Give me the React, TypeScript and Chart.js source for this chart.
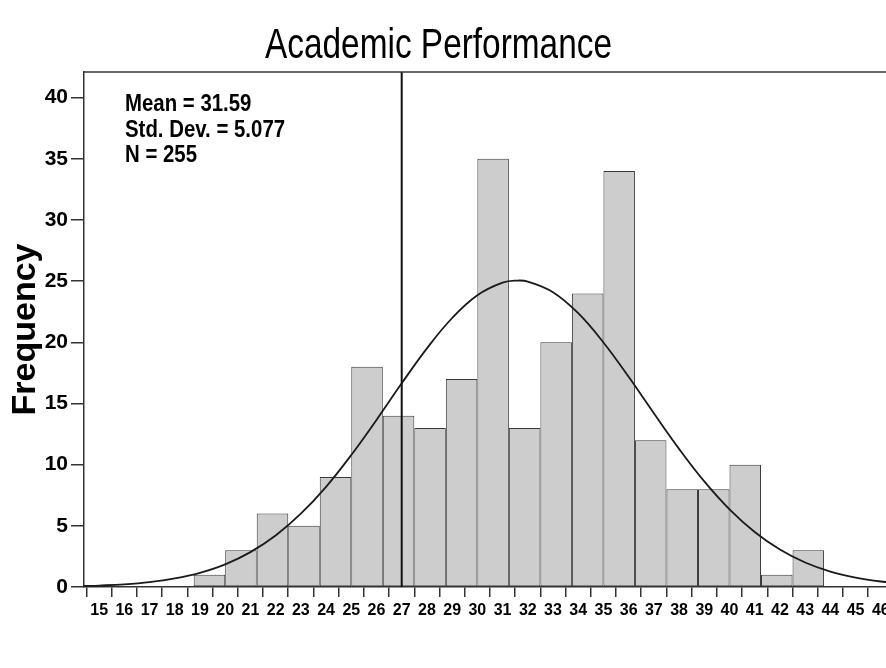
import React, { useEffect, useRef } from "react";
import { Chart, registerables } from "chart.js";

Chart.register(...registerables);

const chartTitle = "Academic Performance";
const yAxisTitle = "Frequency";
const statsLines = ["Mean = 31.59", "Std. Dev. = 5.077", "N = 255"];

const binWidth = 1.25;
const binStarts = [18.75, 20, 21.25, 22.5, 23.75, 25, 26.25, 27.5, 28.75, 30, 31.25, 32.5, 33.75, 35, 36.25, 37.5, 38.75, 40, 41.25, 42.5];
const binCounts = [1, 3, 6, 5, 9, 18, 14, 13, 17, 35, 13, 20, 24, 34, 12, 8, 8, 10, 1, 3];

const curveX = [14.4, 15, 16, 17, 18, 19, 20, 21, 22, 23, 24, 25, 26, 27, 28, 29, 30, 31, 31.59, 32, 33, 34, 35, 36, 37, 38, 39, 40, 41, 42, 43, 44, 45, 46, 47];
const curveY = [0.08, 0.12, 0.22, 0.4, 0.7, 1.16, 1.85, 2.85, 4.21, 5.99, 8.19, 10.79, 13.66, 16.65, 19.51, 21.99, 23.85, 24.88, 25.05, 24.97, 24.1, 22.38, 19.99, 17.18, 14.2, 11.29, 8.63, 6.35, 4.5, 3.06, 2.0, 1.26, 0.77, 0.45, 0.25];

const refLineX = 27;

const xTicks = [15, 16, 17, 18, 19, 20, 21, 22, 23, 24, 25, 26, 27, 28, 29, 30, 31, 32, 33, 34, 35, 36, 37, 38, 39, 40, 41, 42, 43, 44, 45, 46];
const xTickStep = 1;
const yTicks = [0, 5, 10, 15, 20, 25, 30, 35, 40];

const xMin = 14.4;
const xMax = 47;
const yMax = 42.1;

const SANS = "'Liberation Sans', Arial, sans-serif";

export default function App() {
  const canvasRef = useRef<HTMLCanvasElement | null>(null);

  useEffect(() => {
    const canvas = canvasRef.current;
    if (!canvas) return;

    const textPlugin = {
      id: "titleStatsFrame",
      afterDraw(chart: any) {
        const { ctx, chartArea } = chart;
        ctx.save();
        ctx.strokeStyle = "#333";
        ctx.lineWidth = 1.5;
        ctx.beginPath();
        ctx.moveTo(chartArea.left, chartArea.top);
        ctx.lineTo(chartArea.right, chartArea.top);
        ctx.stroke();
        ctx.restore();

        ctx.save();
        ctx.fillStyle = "#000";
        ctx.font = `normal 42px ${SANS}`;
        ctx.textAlign = "center";
        ctx.textBaseline = "alphabetic";
        ctx.translate(438.5, 58.3);
        ctx.scale(0.795, 1);
        ctx.fillText(chartTitle, 0, 0);
        ctx.restore();

        ctx.save();
        ctx.fillStyle = "#000";
        ctx.font = `bold 24px ${SANS}`;
        ctx.textAlign = "left";
        ctx.textBaseline = "alphabetic";
        const baseY = [110.6, 136.6, 161.8];
        statsLines.forEach((t, i) => {
          ctx.save();
          ctx.translate(125, baseY[i]);
          ctx.scale(0.85, 1);
          ctx.fillText(t, 0, 0);
          ctx.restore();
        });
        ctx.restore();
      },
    };

    const chart = new Chart(canvas, {
      type: "bar",
      data: {
        datasets: [
          {
            type: "line",
            data: curveX.map((x, i) => ({ x, y: curveY[i] })),
            borderColor: "#1a1a1a",
            borderWidth: 1.8,
            pointRadius: 0,
            tension: 0.4,
            fill: false,
            order: 1,
          } as any,
          {
            type: "line",
            data: [
              { x: refLineX, y: 0 },
              { x: refLineX, y: yMax },
            ],
            borderColor: "#111",
            borderWidth: 2,
            pointRadius: 0,
            fill: false,
            order: 0,
          } as any,
          {
            type: "bar",
            data: binStarts.map((s, i) => ({ x: s + binWidth / 2, y: binCounts[i] })),
            backgroundColor: "#cdcdcd",
            borderColor: "#3a3a3a",
            borderWidth: 1,
            borderSkipped: false,
            barPercentage: binWidth / xTickStep,
            categoryPercentage: 1,
            order: 2,
          } as any,
        ],
      },
      options: {
        responsive: false,
        animation: false,
        layout: { padding: { top: 72, left: 0, right: 0, bottom: 0 } },
        plugins: {
          legend: { display: false },
          tooltip: { enabled: false },
          title: { display: false },
        },
        scales: {
          x: {
            type: "linear",
            min: xMin,
            max: xMax,
            offset: false,
            afterBuildTicks: (scale: any) => {
              scale.ticks = xTicks.map((v) => ({ value: v }));
            },
            afterFit: (scale: any) => {
              scale.height = 81;
            },
            ticks: {
              autoSkip: false,
              maxRotation: 0,
              minRotation: 0,
              padding: 4,
              color: "#000",
              font: { family: SANS, size: 16, weight: "bold" },
              callback: (v: any) => String(v),
            },
            grid: {
              display: true,
              drawOnChartArea: false,
              drawTicks: true,
              tickLength: 10,
              color: "#333",
              lineWidth: 1.5,
            },
            border: { display: true, color: "#333", width: 1.5 },
          },
          y: {
            type: "linear",
            min: 0,
            max: yMax,
            afterBuildTicks: (scale: any) => {
              scale.ticks = yTicks.map((v) => ({ value: v }));
            },
            afterFit: (scale: any) => {
              scale.width = 84;
            },
            ticks: {
              padding: 3,
              color: "#000",
              font: { family: SANS, size: 21, weight: "bold" },
              callback: (v: any) => String(v),
            },
            grid: {
              display: true,
              drawOnChartArea: false,
              drawTicks: true,
              tickLength: 13,
              color: "#333",
              lineWidth: 1.5,
            },
            border: { display: true, color: "#333", width: 1.5 },
            title: {
              display: true,
              text: yAxisTitle,
              color: "#000",
              font: { family: SANS, size: 34, weight: "bold" },
              padding: { top: 5, bottom: 0 },
            },
          },
        },
      } as any,
      plugins: [textPlugin],
    });

    return () => {
      chart.destroy();
    };
  }, []);

  return (
    <div
      style={{
        position: "fixed",
        left: 0,
        top: 0,
        width: 886,
        height: 668,
        overflow: "hidden",
        background: "#fff",
      }}
    >
      <canvas ref={canvasRef} width={906} height={668} style={{ display: "block" }} />
    </div>
  );
}
